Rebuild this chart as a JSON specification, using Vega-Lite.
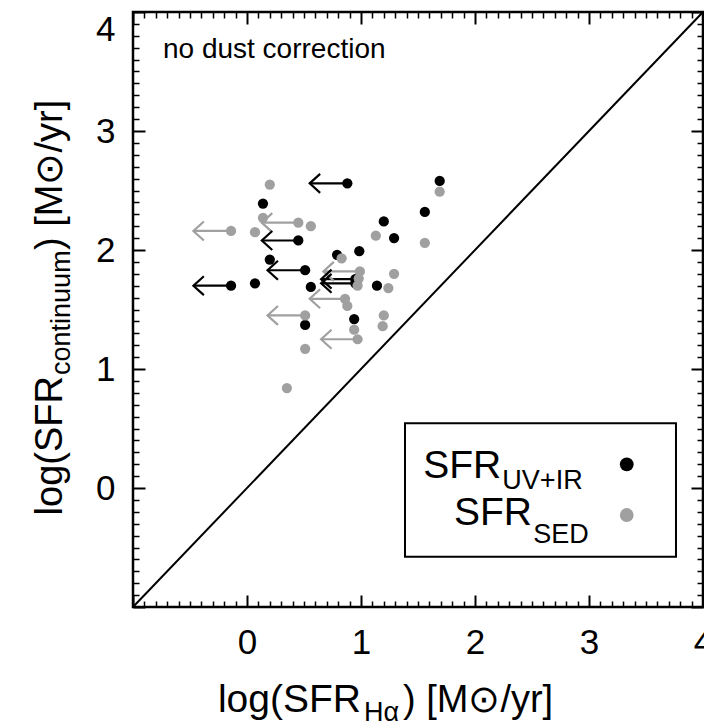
{
  "$schema": "https://vega.github.io/schema/vega-lite/v6.json",
  "width": 570,
  "height": 595,
  "autosize": {"type": "none"},
  "padding": {"left": 133, "top": 12, "right": 1, "bottom": 121},
  "background": "white",
  "config": {"view": {"stroke": "black", "strokeWidth": 2.5}, "font": "Liberation Sans"},
  "datasets": {
    "diag": [{"x": -1, "y": -1, "x2": 4, "y2": 4}],
    "box": [{"x": 1.386, "x2": 3.763, "y": 0.544, "y2": -0.577}],
    "points": [
      {"type": "UV+IR", "x": 0.88, "y": 2.56, "lim": 0.55},
      {"type": "UV+IR", "x": 1.69, "y": 2.58},
      {"type": "UV+IR", "x": 0.14, "y": 2.39},
      {"type": "UV+IR", "x": 1.56, "y": 2.32},
      {"type": "UV+IR", "x": 1.2, "y": 2.24},
      {"type": "UV+IR", "x": 1.29, "y": 2.1},
      {"type": "UV+IR", "x": 0.45, "y": 2.08, "lim": 0.13},
      {"type": "UV+IR", "x": 0.985, "y": 1.99},
      {"type": "UV+IR", "x": 0.79, "y": 1.96},
      {"type": "UV+IR", "x": 0.2, "y": 1.92},
      {"type": "UV+IR", "x": 0.51, "y": 1.83, "lim": 0.18},
      {"type": "UV+IR", "x": -0.14, "y": 1.7, "lim": -0.47},
      {"type": "UV+IR", "x": 0.07, "y": 1.72},
      {"type": "UV+IR", "x": 0.56, "y": 1.69},
      {"type": "UV+IR", "x": 1.14, "y": 1.7},
      {"type": "UV+IR", "x": 0.95, "y": 1.755, "lim": 0.65},
      {"type": "UV+IR", "x": 0.95, "y": 1.72, "lim": 0.65},
      {"type": "UV+IR", "x": 0.94, "y": 1.42},
      {"type": "UV+IR", "x": 0.51, "y": 1.37},
      {"type": "SED", "x": 0.2, "y": 2.55},
      {"type": "SED", "x": 0.14, "y": 2.27},
      {"type": "SED", "x": 0.45, "y": 2.23, "lim": 0.13},
      {"type": "SED", "x": 0.56, "y": 2.2},
      {"type": "SED", "x": -0.14, "y": 2.16, "lim": -0.47},
      {"type": "SED", "x": 0.07, "y": 2.15},
      {"type": "SED", "x": 1.13, "y": 2.12},
      {"type": "SED", "x": 1.69, "y": 2.49},
      {"type": "SED", "x": 1.56, "y": 2.06},
      {"type": "SED", "x": 0.83, "y": 1.93},
      {"type": "SED", "x": 0.99, "y": 1.82, "lim": 0.67},
      {"type": "SED", "x": 0.98, "y": 1.76},
      {"type": "SED", "x": 0.97, "y": 1.7},
      {"type": "SED", "x": 1.29, "y": 1.8},
      {"type": "SED", "x": 1.24, "y": 1.68},
      {"type": "SED", "x": 0.86, "y": 1.59, "lim": 0.55},
      {"type": "SED", "x": 0.88, "y": 1.53},
      {"type": "SED", "x": 0.51, "y": 1.45, "lim": 0.18},
      {"type": "SED", "x": 1.2, "y": 1.45},
      {"type": "SED", "x": 1.19, "y": 1.36},
      {"type": "SED", "x": 0.94, "y": 1.33},
      {"type": "SED", "x": 0.97, "y": 1.25, "lim": 0.65},
      {"type": "SED", "x": 0.51, "y": 1.17},
      {"type": "SED", "x": 0.35, "y": 0.84}
    ],
    "legend": [
      {"type": "UV+IR", "x": 3.331, "y": 0.199},
      {"type": "SED", "x": 3.331, "y": -0.227}
    ],
    "annot": [
      {"g": "note", "text": "no dust correction", "x": -0.737, "y": 3.613},
      {"g": "mainR", "text": "SFR", "x": 2.23, "y": 0.085},
      {"g": "subL", "text": "UV+IR", "x": 2.24, "y": -0.01},
      {"g": "mainR", "text": "SFR", "x": 2.5, "y": -0.315},
      {"g": "subL", "text": "SED", "x": 2.51, "y": -0.465},
      {"g": "mainR", "text": "log(SFR", "x": 1.0, "y": -1.882},
      {"g": "subL", "text": "Hα", "x": 1.026, "y": -1.958},
      {"g": "mainL", "text": ") [M⊙/yr]", "x": 1.368, "y": -1.882},
      {"g": "vmainR", "text": "log(SFR", "x": -1.623, "y": 0.941},
      {"g": "vsubL", "text": "continuum", "x": -1.553, "y": 0.95},
      {"g": "vmainL", "text": ") [M⊙/yr]", "x": -1.623, "y": 2.0}
    ]
  },
  "encoding": {
    "x": {"field": "x", "type": "quantitative", "scale": {"domain": [-1, 4], "nice": false, "zero": false}, "axis": null},
    "y": {"field": "y", "type": "quantitative", "scale": {"domain": [-1, 4], "nice": false, "zero": false}, "axis": null}
  },
  "layer": [
    {
      "data": {"name": "diag"},
      "mark": {"type": "rule", "color": "black", "strokeWidth": 2},
      "encoding": {
        "x": {"field": "x", "type": "quantitative", "scale": {"domain": [-1, 4], "nice": false, "zero": false},
          "axis": {"orient": "bottom", "title": null, "grid": false, "domain": false, "offset": -12,
            "values": [-1, 0, 1, 2, 3, 4],
            "labelExpr": "datum.value >= 0 ? format(datum.value, 'd') : ''",
            "tickSize": 12, "tickColor": "black", "tickWidth": 2,
            "labelFont": "Liberation Sans", "labelFontSize": 35, "labelColor": "black",
            "labelPadding": 18, "labelFlush": false, "labelOverlap": false, "labelBound": false}},
        "y": {"field": "y", "type": "quantitative", "scale": {"domain": [-1, 4], "nice": false, "zero": false},
          "axis": {"orient": "left", "title": null, "grid": false, "domain": false, "offset": -12,
            "values": [-1, 0, 1, 2, 3, 4],
            "labelExpr": "datum.value >= 0 ? format(datum.value, 'd') : ''",
            "tickSize": 12, "tickColor": "black", "tickWidth": 2,
            "labelFont": "Liberation Sans", "labelFontSize": 35, "labelColor": "black",
            "labelPadding": 18, "labelFlush": true, "labelOverlap": false, "labelBound": false}},
        "x2": {"field": "x2"},
        "y2": {"field": "y2"}
      }
    },
    {
      "data": {"name": "box"},
      "mark": {"type": "rect", "fill": "white", "stroke": "black", "strokeWidth": 2},
      "encoding": {
        "x": {"field": "x", "type": "quantitative", "scale": {"domain": [-1, 4], "nice": false, "zero": false},
          "axis": {"orient": "top", "title": null, "grid": false, "labels": false, "domain": false, "offset": -12,
            "values": [-1, 0, 1, 2, 3, 4],
            "tickSize": 12, "tickColor": "black", "tickWidth": 2}},
        "y": {"field": "y", "type": "quantitative", "scale": {"domain": [-1, 4], "nice": false, "zero": false},
          "axis": {"orient": "right", "title": null, "grid": false, "labels": false, "domain": false, "offset": -12,
            "values": [-1, 0, 1, 2, 3, 4],
            "tickSize": 12, "tickColor": "black", "tickWidth": 2}},
        "x2": {"field": "x2"},
        "y2": {"field": "y2"}
      }
    },
    {
      "data": {"name": "points"},
      "transform": [{"filter": "isValid(datum.lim)"}],
      "mark": {"type": "rule", "strokeWidth": 2.2},
      "encoding": {
        "x2": {"field": "lim"},
        "color": {"field": "type", "type": "nominal", "scale": {"domain": ["UV+IR", "SED"], "range": ["#000000", "#a0a0a0"]}, "legend": null},
        "order": {"field": "type", "sort": "ascending"}
      }
    },
    {
      "data": {"name": "points"},
      "transform": [{"filter": "isValid(datum.lim)"}],
      "mark": {"type": "point", "shape": "M 1.1 -1 L 0 0 L 1.1 1", "size": 360, "filled": false, "strokeWidth": 2.2, "opacity": 1},
      "encoding": {
        "x": {"field": "lim", "type": "quantitative", "scale": {"domain": [-1, 4], "nice": false, "zero": false}, "axis": null},
        "color": {"field": "type", "type": "nominal", "scale": {"domain": ["UV+IR", "SED"], "range": ["#000000", "#a0a0a0"]}, "legend": null},
        "order": {"field": "type", "sort": "ascending"}
      }
    },
    {
      "data": {"name": "points"},
      "mark": {"type": "circle", "size": 105, "opacity": 1},
      "encoding": {
        "x": {"field": "x", "type": "quantitative", "scale": {"domain": [-1, 4], "nice": false, "zero": false},
          "axis": {"orient": "bottom", "title": null, "grid": false, "labels": false, "domain": false, "offset": -6,
            "values": [-0.9,-0.8,-0.7,-0.6,-0.5,-0.4,-0.3,-0.2,-0.1,0.1,0.2,0.3,0.4,0.5,0.6,0.7,0.8,0.9,1.1,1.2,1.3,1.4,1.5,1.6,1.7,1.8,1.9,2.1,2.2,2.3,2.4,2.5,2.6,2.7,2.8,2.9,3.1,3.2,3.3,3.4,3.5,3.6,3.7,3.8,3.9],
            "tickSize": 6, "tickColor": "black", "tickWidth": 1.5}},
        "y": {"field": "y", "type": "quantitative", "scale": {"domain": [-1, 4], "nice": false, "zero": false},
          "axis": {"orient": "left", "title": null, "grid": false, "labels": false, "domain": false, "offset": -6,
            "values": [-0.9,-0.8,-0.7,-0.6,-0.5,-0.4,-0.3,-0.2,-0.1,0.1,0.2,0.3,0.4,0.5,0.6,0.7,0.8,0.9,1.1,1.2,1.3,1.4,1.5,1.6,1.7,1.8,1.9,2.1,2.2,2.3,2.4,2.5,2.6,2.7,2.8,2.9,3.1,3.2,3.3,3.4,3.5,3.6,3.7,3.8,3.9],
            "tickSize": 6, "tickColor": "black", "tickWidth": 1.5}},
        "color": {"field": "type", "type": "nominal", "scale": {"domain": ["UV+IR", "SED"], "range": ["#000000", "#a0a0a0"]}, "legend": null},
        "order": {"field": "type", "sort": "descending"}
      }
    },
    {
      "data": {"name": "legend"},
      "mark": {"type": "circle", "size": 190, "opacity": 1},
      "encoding": {
        "x": {"field": "x", "type": "quantitative", "scale": {"domain": [-1, 4], "nice": false, "zero": false},
          "axis": {"orient": "top", "title": null, "grid": false, "labels": false, "domain": false, "offset": -6,
            "values": [-0.9,-0.8,-0.7,-0.6,-0.5,-0.4,-0.3,-0.2,-0.1,0.1,0.2,0.3,0.4,0.5,0.6,0.7,0.8,0.9,1.1,1.2,1.3,1.4,1.5,1.6,1.7,1.8,1.9,2.1,2.2,2.3,2.4,2.5,2.6,2.7,2.8,2.9,3.1,3.2,3.3,3.4,3.5,3.6,3.7,3.8,3.9],
            "tickSize": 6, "tickColor": "black", "tickWidth": 1.5}},
        "y": {"field": "y", "type": "quantitative", "scale": {"domain": [-1, 4], "nice": false, "zero": false},
          "axis": {"orient": "right", "title": null, "grid": false, "labels": false, "domain": false, "offset": -6,
            "values": [-0.9,-0.8,-0.7,-0.6,-0.5,-0.4,-0.3,-0.2,-0.1,0.1,0.2,0.3,0.4,0.5,0.6,0.7,0.8,0.9,1.1,1.2,1.3,1.4,1.5,1.6,1.7,1.8,1.9,2.1,2.2,2.3,2.4,2.5,2.6,2.7,2.8,2.9,3.1,3.2,3.3,3.4,3.5,3.6,3.7,3.8,3.9],
            "tickSize": 6, "tickColor": "black", "tickWidth": 1.5}},
        "color": {"field": "type", "type": "nominal", "scale": {"domain": ["UV+IR", "SED"], "range": ["#000000", "#a0a0a0"]}, "legend": null}
      }
    },
    {
      "data": {"name": "annot"},
      "transform": [{"filter": "datum.g === 'note'"}],
      "mark": {"type": "text", "align": "left", "baseline": "alphabetic", "fontSize": 28, "color": "black", "font": "Liberation Sans"},
      "encoding": {"text": {"field": "text"}}
    },
    {
      "data": {"name": "annot"},
      "transform": [{"filter": "datum.g === 'mainR'"}],
      "mark": {"type": "text", "align": "right", "baseline": "alphabetic", "fontSize": 39, "color": "black", "font": "Liberation Sans"},
      "encoding": {"text": {"field": "text"}}
    },
    {
      "data": {"name": "annot"},
      "transform": [{"filter": "datum.g === 'mainL'"}],
      "mark": {"type": "text", "align": "left", "baseline": "alphabetic", "fontSize": 38, "color": "black", "font": "Liberation Sans"},
      "encoding": {"text": {"field": "text"}}
    },
    {
      "data": {"name": "annot"},
      "transform": [{"filter": "datum.g === 'subL'"}],
      "mark": {"type": "text", "align": "left", "baseline": "alphabetic", "fontSize": 27, "color": "black", "font": "Liberation Sans"},
      "encoding": {"text": {"field": "text"}}
    },
    {
      "data": {"name": "annot"},
      "transform": [{"filter": "datum.g === 'vmainR'"}],
      "mark": {"type": "text", "align": "right", "baseline": "alphabetic", "angle": 270, "fontSize": 38, "color": "black", "font": "Liberation Sans"},
      "encoding": {"text": {"field": "text"}}
    },
    {
      "data": {"name": "annot"},
      "transform": [{"filter": "datum.g === 'vmainL'"}],
      "mark": {"type": "text", "align": "left", "baseline": "alphabetic", "angle": 270, "fontSize": 38, "color": "black", "font": "Liberation Sans"},
      "encoding": {"text": {"field": "text"}}
    },
    {
      "data": {"name": "annot"},
      "transform": [{"filter": "datum.g === 'vsubL'"}],
      "mark": {"type": "text", "align": "left", "baseline": "alphabetic", "angle": 270, "fontSize": 27, "color": "black", "font": "Liberation Sans"},
      "encoding": {"text": {"field": "text"}}
    }
  ],
  "resolve": {"axis": {"x": "independent", "y": "independent"}}
}
